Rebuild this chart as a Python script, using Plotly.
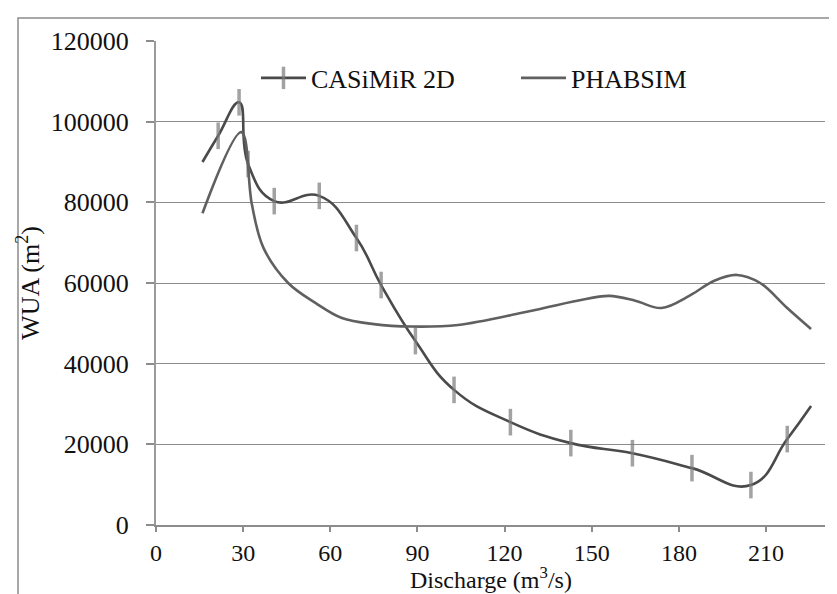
import plotly.graph_objects as go

# CASiMiR 2D (markers visible except first/last point)
cas_x = [16, 21.4, 28.6, 31.7, 40.7, 56.2, 69, 77.5, 89.3, 102.6, 122, 142.8, 164, 184.5, 204.8, 217.3, 225.5]
cas_y = [90000, 96500, 104800, 89500, 80300, 81600, 71150, 59500, 45600, 33500, 25500, 20300, 17800, 14100, 9900, 21300, 29500]

# PHABSIM (smoothed line, no markers)
pha_x = [16, 29.4, 33, 37, 45.5, 55, 64, 75, 88, 104, 126, 145, 156, 165, 174, 184, 192, 200, 208, 217, 225.5]
pha_y = [77300, 97400, 79500, 68700, 60000, 55000, 51300, 49800, 49200, 49600, 52600, 55600, 56800, 55600, 53800, 57000, 60500, 62000, 60000, 54000, 48600]

x_ticks = [0, 30, 60, 90, 120, 150, 180, 210]
y_ticks = [0, 20000, 40000, 60000, 80000, 100000, 120000]

FONT = "Liberation Serif, Times New Roman, serif"
FS = 26
FSX = 24
W, H = 837, 594
ML, MR, MT, MB = 148, 20, 33, 77
PW, PH = W - ML - MR, H - MT - MB

def px_x(p):
    return (p - ML) / PW

def px_y(p):
    return 1 - (p - MT) / PH

cas_sizes = [0] + [19] * (len(cas_x) - 2) + [0]

fig = go.Figure()
fig.add_trace(go.Scatter(
    x=cas_x, y=cas_y, name="CASiMiR 2D", mode="lines+markers",
    line=dict(color="#4a4a4a", width=2.6, shape="spline", smoothing=1.3),
    marker=dict(symbol="line-ns", size=cas_sizes, color="#7c7c7c",
                line=dict(color="#7c7c7c", width=3.5)),
    legend="legend", showlegend=True,
))
fig.add_trace(go.Scatter(
    x=pha_x, y=pha_y, name="PHABSIM", mode="lines",
    line=dict(color="#606060", width=2.6, shape="spline", smoothing=1.0),
    legend="legend2", showlegend=True,
))

fig.update_layout(
    width=W, height=H,
    showlegend=True,
    margin=dict(l=ML, r=MR, t=MT, b=MB),
    paper_bgcolor="white", plot_bgcolor="white",
    font=dict(family=FONT, size=FS, color="#111111"),
    legend=dict(x=px_x(248), y=px_y(70), xanchor="left", yanchor="middle", visible=True,
                itemwidth=45,
                bgcolor="rgba(0,0,0,0)", font=dict(family=FONT, size=FS, color="#111111")),
    legend2=dict(x=px_x(508), y=px_y(70), xanchor="left", yanchor="middle", visible=True,
                 itemwidth=45,
                 bgcolor="rgba(0,0,0,0)", font=dict(family=FONT, size=FS, color="#111111")),
    xaxis=dict(
        range=[0, 230.3], tickvals=x_ticks, ticktext=[str(v) for v in x_ticks],
        showgrid=False, zeroline=False, showline=True, linecolor="#8c8c8c", linewidth=1.5,
        ticks="outside", ticklen=5, tickcolor="#8c8c8c", tickwidth=1.5,
        automargin=False,
        tickfont=dict(family=FONT, size=FSX),
    ),
    yaxis=dict(
        range=[0, 120000], tickvals=y_ticks, ticktext=[str(v) for v in y_ticks],
        showgrid=True, gridcolor="#8c8c8c", gridwidth=1.4, zeroline=False,
        showline=True, linecolor="#9a9a9a", linewidth=2,
        ticks="outside", ticklen=8, tickcolor="#8c8c8c", tickwidth=1.5,
        ticklabelstandoff=12, automargin=False,
        title=dict(text="WUA (m<sup>2</sup>)", font=dict(family=FONT, size=FS), standoff=4),
        tickfont=dict(family=FONT, size=FS),
    ),
    annotations=[dict(text="Discharge (m<sup>3</sup>/s)", xref="paper", yref="paper",
                      x=0.5, y=px_y(570), xanchor="center", yanchor="middle",
                      showarrow=False, font=dict(family=FONT, size=FSX, color="#111111"))],
    shapes=[dict(type="rect", xref="paper", yref="paper",
                 x0=px_x(10), x1=px_x(900), y0=px_y(700), y1=px_y(10),
                 line=dict(color="#8c8c8c", width=1.5), layer="below")],
)

fig.write_html("out.html")
